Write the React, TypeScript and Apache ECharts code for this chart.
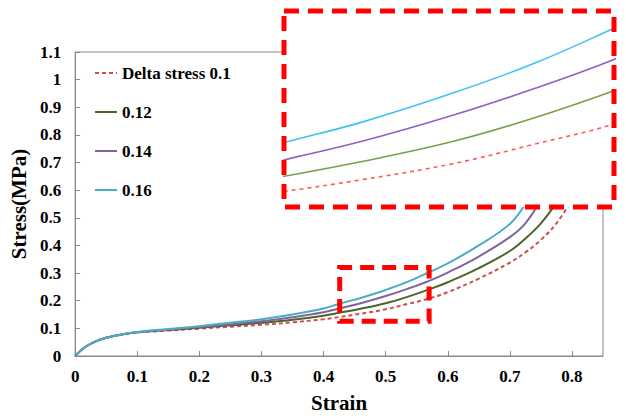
import React, { useEffect, useRef } from "react";
import * as echarts from "echarts";

// Strain values shared by all curves
const STRAIN = [0, 0.01, 0.02, 0.035, 0.05, 0.075, 0.1, 0.15, 0.2, 0.25, 0.3, 0.35, 0.4, 0.425, 0.46, 0.5, 0.535, 0.57, 0.6, 0.65, 0.7, 0.725, 0.75, 0.775, 0.8];

// Stress (MPa) for each delta stress
const STRESS_010 = [0, 0.022, 0.038, 0.055, 0.066, 0.077, 0.085, 0.092, 0.099, 0.106, 0.113, 0.122, 0.133, 0.141, 0.153, 0.169, 0.188, 0.208, 0.231, 0.28, 0.338, 0.375, 0.42, 0.48, 0.565];
const STRESS_012 = [0, 0.022, 0.038, 0.055, 0.066, 0.078, 0.086, 0.094, 0.102, 0.111, 0.12, 0.131, 0.146, 0.156, 0.171, 0.191, 0.214, 0.241, 0.267, 0.318, 0.38, 0.425, 0.48, 0.555, null];
const STRESS_014 = [0, 0.022, 0.038, 0.055, 0.066, 0.078, 0.086, 0.096, 0.105, 0.115, 0.126, 0.14, 0.158, 0.172, 0.191, 0.217, 0.243, 0.272, 0.302, 0.36, 0.43, 0.48, 0.565, null, null];
const STRESS_016 = [0, 0.022, 0.038, 0.055, 0.066, 0.078, 0.087, 0.098, 0.108, 0.12, 0.133, 0.15, 0.172, 0.189, 0.21, 0.239, 0.268, 0.303, 0.335, 0.4, 0.478, 0.55, null, null, null];

const NAMES = ["Delta stress 0.1", "0.12", "0.14", "0.16"];
const COLORS_MAIN = ["#c9504c", "#4f6228", "#8064a2", "#4bacc6"];
const COLORS_INSET = ["#ff5a5a", "#76a050", "#9160c4", "#3cc3f0"];

// Zoomed window (strain, stress)
const ZOOM_X = [0.426, 0.57];
const ZOOM_Y = [0.126, 0.32];

const X_MAX = 0.85;
const Y_MAX = 1.1;

const FONT = "Times New Roman";

function pairs(vals: (number | null)[]) {
  const out: number[][] = [];
  STRAIN.forEach((x, i) => {
    const v = vals[i];
    if (v !== null && v !== undefined) out.push([x, v]);
  });
  return out;
}

export default function App() {
  const ref = useRef<HTMLDivElement>(null);
  useEffect(() => {
    if (!ref.current) return;
    const chart = echarts.init(ref.current, undefined, { renderer: "svg" });
    const all = [STRESS_010, STRESS_012, STRESS_014, STRESS_016];
    const series: any[] = [];
    all.forEach((vals, i) => {
      series.push({
        name: NAMES[i],
        type: "line",
        xAxisIndex: 0,
        yAxisIndex: 0,
        data: pairs(vals),
        smooth: 0.4,
        symbol: "none",
        z: 2,
        lineStyle: {
          color: COLORS_MAIN[i],
          width: 2,
          type: i === 0 ? [4, 3] : "solid",
        },
        itemStyle: { color: COLORS_MAIN[i] },
        markArea:
          i === 0
            ? {
                silent: true,
                z: 200,
                itemStyle: {
                  color: "rgba(0,0,0,0)",
                  borderColor: "#ff0000",
                  borderWidth: 5,
                  borderType: [14, 8],
                },
                data: [[{ coord: [ZOOM_X[0], ZOOM_Y[0]] }, { coord: [ZOOM_X[1], ZOOM_Y[1]] }]],
              }
            : undefined,
      });
    });
    all.forEach((vals, i) => {
      series.push({
        name: "inset" + i,
        type: "line",
        xAxisIndex: 1,
        yAxisIndex: 1,
        data: pairs(vals),
        smooth: 0.4,
        symbol: "none",
        z: 100,
        clip: true,
        lineStyle: {
          color: COLORS_INSET[i],
          width: 1.6,
          type: i === 0 ? [4, 4] : "solid",
        },
      });
    });

    chart.setOption({
      animation: false,
      backgroundColor: "#fff",
      textStyle: { fontFamily: FONT },
      grid: [
        {
          left: 74,
          top: 52,
          right: 23,
          bottom: 60,
          show: true,
          borderColor: "#8a8a8a",
          borderWidth: 1,
          backgroundColor: "rgba(0,0,0,0)",
        },
        { left: 284, top: 11, width: 330, height: 196 },
      ],
      legend: {
        data: NAMES,
        orient: "vertical",
        left: 89,
        top: 59,
        itemWidth: 22,
        itemHeight: 18,
        itemGap: 21,
        itemStyle: { color: "rgba(0,0,0,0)", borderWidth: 0, opacity: 0 },
        textStyle: {
          fontFamily: FONT,
          fontWeight: "bold",
          fontSize: 17,
          lineHeight: 18,
          color: "#000",
        },
      },
      xAxis: [
        {
          type: "value",
          gridIndex: 0,
          min: 0,
          max: X_MAX,
          interval: 0.1,
          name: "Strain",
          nameLocation: "middle",
          nameGap: 36,
          nameTextStyle: { fontFamily: FONT, fontWeight: "bold", fontSize: 21, color: "#000" },
          axisLine: { lineStyle: { color: "#8a8a8a", width: 1 } },
          axisTick: { inside: true, length: 5, lineStyle: { color: "#8a8a8a" } },
          splitLine: { show: false },
          axisLabel: {
            showMaxLabel: false,
            margin: 12,
            fontFamily: FONT,
            fontWeight: "bold",
            fontSize: 17,
            color: "#000",
            formatter: (v: number) => String(parseFloat(v.toFixed(2))),
          },
        },
        { type: "value", gridIndex: 1, min: ZOOM_X[0], max: ZOOM_X[1], show: false },
      ],
      yAxis: [
        {
          type: "value",
          gridIndex: 0,
          min: 0,
          max: Y_MAX,
          interval: 0.1,
          name: "Stress(MPa)",
          nameLocation: "middle",
          nameGap: 42,
          nameTextStyle: { fontFamily: FONT, fontWeight: "bold", fontSize: 21, color: "#000" },
          axisLine: { show: true, lineStyle: { color: "#8a8a8a", width: 1 } },
          axisTick: { show: true, inside: true, length: 5, lineStyle: { color: "#8a8a8a" } },
          splitLine: { show: false },
          axisLabel: {
            margin: 14,
            fontFamily: FONT,
            fontWeight: "bold",
            fontSize: 17,
            color: "#000",
            formatter: (v: number) => String(parseFloat(v.toFixed(2))),
          },
        },
        { type: "value", gridIndex: 1, min: ZOOM_Y[0], max: ZOOM_Y[1], show: false },
      ],
      graphic: [
        {
          type: "rect",
          z: 50,
          silent: true,
          shape: { x: 284, y: 11, width: 330, height: 196 },
          style: { fill: "#ffffff", stroke: "none" },
        },
        {
          type: "rect",
          z: 150,
          silent: true,
          shape: { x: 284, y: 11, width: 330, height: 196 },
          style: { fill: "rgba(0,0,0,0)", stroke: "#ff0000", lineWidth: 5, lineDash: [15, 9] },
        },
      ],
      series,
    });
    return () => chart.dispose();
  }, []);
  return (
    <div
      ref={ref}
      style={{ position: "fixed", left: 0, top: 0, width: 626, height: 418, background: "#fff" }}
    />
  );
}
